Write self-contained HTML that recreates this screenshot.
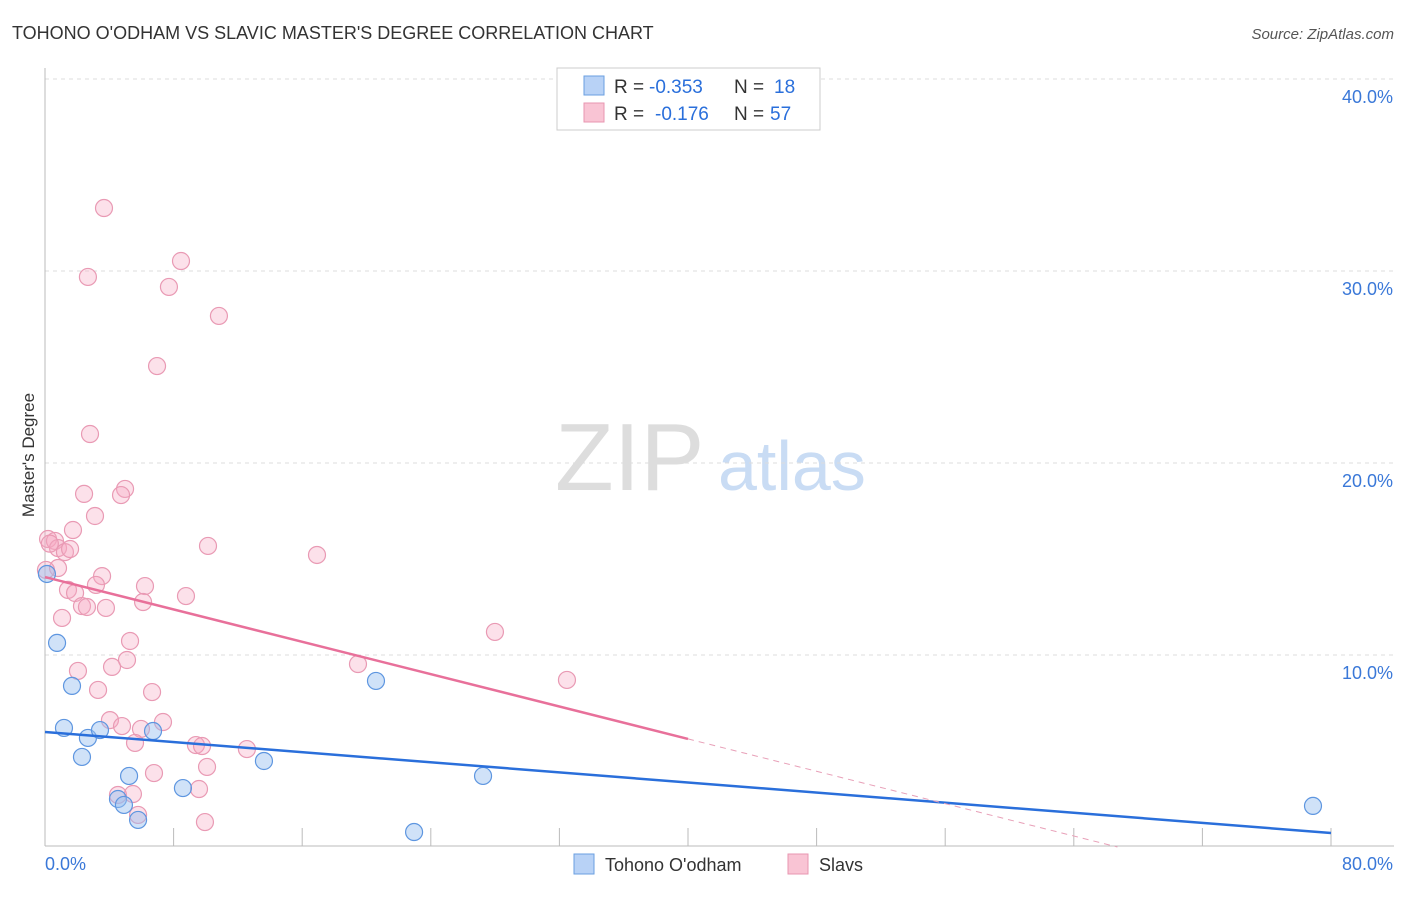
<!DOCTYPE html>
<html><head><meta charset="utf-8"><style>
body{margin:0;background:#fff;font-family:"Liberation Sans",sans-serif}
svg text{font-family:"Liberation Sans",sans-serif}
</style></head><body>
<svg id="c" width="1406" height="892">
<text x="12" y="39" font-size="18" fill="#333">TOHONO O'ODHAM VS SLAVIC MASTER'S DEGREE CORRELATION CHART</text>
<text x="1394" y="39" font-size="15" fill="#555" font-style="italic" text-anchor="end">Source: ZipAtlas.com</text>
<text transform="translate(34,455) rotate(-90)" font-size="17" fill="#333" text-anchor="middle">Master's Degree</text>
<g><text x="555" y="490" font-size="96" fill="#ddd" font-family="Liberation Serif">ZIP</text><text x="718" y="490" font-size="70" fill="#c9dcf4">atlas</text></g>
<g id="grid"></g><g id="marks"></g>
<g>
<rect x="557" y="68" width="263" height="62" fill="#fff" stroke="#ccc"/>
<rect x="584" y="76" width="20" height="19" fill="#b8d2f6" stroke="#6a9fe0"/>
<rect x="584" y="103" width="20" height="19" fill="#f9c4d4" stroke="#e896b0"/>
<text x="614" y="93" font-size="19" fill="#333">R =</text>
<text x="649" y="93" font-size="19" fill="#2a6fdb">-0.353</text>
<text x="734" y="93" font-size="19" fill="#333">N =</text>
<text x="774" y="93" font-size="19" fill="#2a6fdb">18</text>
<text x="614" y="120" font-size="19" fill="#333">R =</text>
<text x="655" y="120" font-size="19" fill="#2a6fdb">-0.176</text>
<text x="734" y="120" font-size="19" fill="#333">N =</text>
<text x="770" y="120" font-size="19" fill="#2a6fdb">57</text>
</g>
<g>
<rect x="574" y="854" width="20" height="20" fill="#b8d2f6" stroke="#6a9fe0"/>
<text x="605" y="871" font-size="18" fill="#333">Tohono O'odham</text>
<rect x="788" y="854" width="20" height="20" fill="#f9c4d4" stroke="#e896b0"/>
<text x="819" y="871" font-size="18" fill="#333">Slavs</text>
</g>
</svg>
<script>
const blueX=[0.12,0.75,1.68,1.18,2.67,3.42,2.30,6.72,5.23,4.54,4.91,5.79,8.58,13.62,20.59,22.96,27.25,78.88];
const blueY=[14.22,10.63,8.39,6.20,5.68,6.09,4.69,6.04,3.70,2.50,2.19,1.41,3.07,4.48,8.65,0.78,3.70,2.14];
const pinkX=[3.67,8.46,2.67,7.71,10.82,6.97,2.80,2.43,4.98,4.73,3.11,1.74,0.19,0.62,0.81,1.24,1.56,10.14,16.92,0.81,0.06,3.55,3.17,6.22,1.43,1.87,8.77,6.10,2.30,2.61,3.79,1.06,5.29,5.10,4.17,2.05,19.47,27.99,32.47,3.30,6.66,4.04,4.79,7.34,5.97,5.60,9.39,9.77,12.56,10.08,6.78,4.54,5.47,5.79,9.58,9.95,0.3];
const pinkY=[33.28,30.52,29.69,29.17,27.66,25.05,21.51,18.39,18.65,18.33,17.24,16.51,16.04,15.94,15.57,15.36,15.52,15.68,15.21,14.53,14.43,14.11,13.65,13.59,13.39,13.23,13.07,12.76,12.55,12.50,12.45,11.93,10.73,9.74,9.38,9.17,9.53,11.20,8.70,8.18,8.07,6.61,6.30,6.51,6.15,5.42,5.31,5.26,5.10,4.17,3.85,2.71,2.76,1.67,3.02,1.30,15.8];
const blueTrend=[5.99,0.73];
const pinkTrend=[14.06,5.63];
const yTicks=[10,20,30,40];
const yTickLabels=["10.0%","20.0%","30.0%","40.0%"];
const xTicks=[0,8,16,24,32,40,48,56,64,72,80];
const X=v=>45+v/80*1286, Y=v=>847-v*19.2;
const NS="http://www.w3.org/2000/svg";
const mk=(p,t,a)=>{const e=document.createElementNS(NS,t);for(const k in a)e.setAttribute(k,a[k]);p.appendChild(e);return e;};
const g=document.getElementById('grid'),m=document.getElementById('marks');
yTicks.forEach((t,i)=>{
 const l=mk(g,'line',{x1:45,x2:1394,y1:Y(t),y2:Y(t),stroke:'#ddd','stroke-dasharray':'4,4'});
 
 
 const tx=mk(g,'text',{x:1393,y:Y(t)+24,'font-size':18,fill:'#3a78d8','text-anchor':'end'});tx.textContent=yTickLabels[i];
 
 
});
const ax=mk(g,'line',{x1:45,x2:45,y1:68,y2:846,stroke:'#bbb'});


const bx=mk(g,'line',{x1:45,x2:1394,y1:846,y2:846,stroke:'#bbb'});


xTicks.forEach(t=>{const l=mk(g,'line',{x1:X(t),x2:X(t),y1:828,y2:846,stroke:'#bbb'});
 
 });
[[0,"0.0%",'start',45],[80,"80.0%",'end',1393]].forEach(([v,s,a,x])=>{const t=mk(g,'text',{x:x,y:870,'font-size':18,fill:'#3a78d8','text-anchor':a});t.textContent=s;
 
 });
function dots(xs,ys,fill,stroke,name){xs.forEach((x,i)=>{const c=mk(m,'circle',{cx:X(x),cy:Y(ys[i]),r:8.5,fill:fill,stroke:stroke,'stroke-width':1.2});
 
 });}
dots(pinkX,pinkY,'rgba(247,170,195,0.35)','#e99ab4','slavs-point');
dots(blueX,blueY,'rgba(150,190,240,0.45)','#5e96e0','tohono-point');
const bs=(blueTrend[1]-blueTrend[0])/80;
const bl=mk(m,'line',{x1:X(0),y1:Y(blueTrend[0]),x2:X(80),y2:Y(blueTrend[0]+bs*80),stroke:'#2a6fdb','stroke-width':2.5});


const ps=(pinkTrend[1]-pinkTrend[0])/40, x0=-pinkTrend[0]/ps;
const pl=mk(m,'line',{x1:X(0),y1:Y(pinkTrend[0]),x2:X(40),y2:Y(pinkTrend[1]),stroke:'#e8709a','stroke-width':2.5});


const pd=mk(m,'line',{x1:X(40),y1:Y(pinkTrend[1]),x2:X(x0),y2:Y(0),stroke:'#e8a0b8','stroke-width':1,'stroke-dasharray':'6,5'});


</script>
</body></html>
